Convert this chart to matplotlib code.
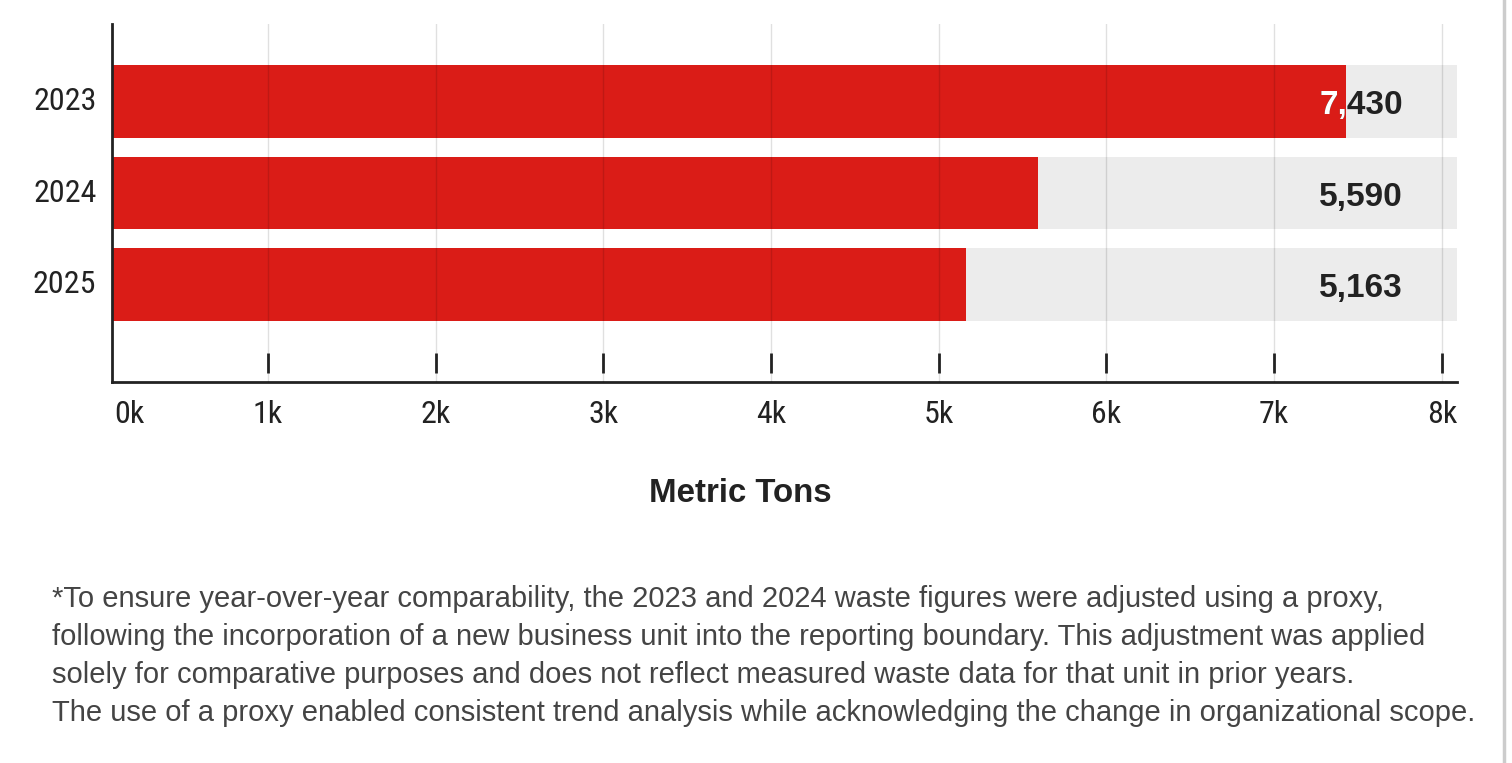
import matplotlib
matplotlib.use("Agg")
import matplotlib.pyplot as plt
from matplotlib import font_manager
from matplotlib.lines import Line2D
from matplotlib.transforms import ScaledTranslation, TransformedBbox

# data
years = ["2023", "2024", "2025"]
tons = [7430, 5590, 5163]
tick_values = [1000, 2000, 3000, 4000, 5000, 6000, 7000, 8000]
tick_labels = ["1k", "2k", "3k", "4k", "5k", "6k", "7k", "8k"]
footnote = ("*To ensure year-over-year comparability, the 2023 and 2024 waste figures were adjusted using a proxy,\n"
            "following the incorporation of a new business unit into the reporting boundary. This adjustment was applied\n"
            "solely for comparative purposes and does not reflect measured waste data for that unit in prior years.\n"
            "The use of a proxy enabled consistent trend analysis while acknowledging the change in organizational scope.")

installed = {f.name for f in font_manager.fontManager.ttflist}
narrow = next(f for f in ["Roboto Condensed", "Archivo Narrow", "Barlow Condensed", "DejaVu Sans"] if f in installed)
sans = "Liberation Sans"

RED = "#da1c17"
TRACK = "#ececec"
DARK = "#222222"

fig = plt.figure(figsize=(15.12, 7.63), dpi=100)
ax = fig.add_axes([0.0739, 0.4997, 0.8897, 0.4684])

x_min, x_max = 68, 8090
ax.set_xlim(x_min, x_max)
ax.set_ylim(2 + 1.062, -0.843)

pos = list(range(len(years)))
ax.barh(pos, [x_max] * len(pos), height=0.795, color=TRACK, zorder=1)
bars = ax.barh(pos, tons, height=0.795, color=RED, zorder=1.5)

# grid lines sit over the bars
ax.set_axisbelow(False)
ax.grid(axis="x", color="black", alpha=0.12, lw=1)
ax.grid(axis="y", visible=False)

ax.set_xticks(tick_values)
ax.set_xticklabels(tick_labels, fontfamily=narrow, fontsize=23, color=DARK)
ax.tick_params(axis="x", length=0, pad=13)
ax.set_yticks(pos)
ax.set_yticklabels(years, fontfamily=narrow, fontsize=23, color=DARK)
ax.tick_params(axis="y", length=0, pad=11)
for lab in ax.get_yticklabels():
    lab.set_transform(lab.get_transform() + ScaledTranslation(0, 3 / 100, fig.dpi_scale_trans))

# "0k" sits just right of the left spine
ax.text(0, 0, "0k", transform=ax.transAxes + ScaledTranslation(3 / 100, -18 / 100, fig.dpi_scale_trans),
        ha="left", va="top", fontfamily=narrow, fontsize=23, color=DARK)

# detached tick marks above the baseline
for t in tick_values:
    ax.plot([t, t], [0.024, 0.080], transform=ax.get_xaxis_transform(), color=DARK, lw=2,
            solid_capstyle="butt", zorder=3)

for s in ["top", "right"]:
    ax.spines[s].set_visible(False)
for s in ["left", "bottom"]:
    ax.spines[s].set_color(DARK)
    ax.spines[s].set_linewidth(2)

# value labels, white where they overlap the red bar
shift = ScaledTranslation(0, -4 / 100, fig.dpi_scale_trans)
for i, v in enumerate(tons):
    label = f"{v:,}"
    ax.text(0.960, i, label, transform=ax.get_yaxis_transform() + shift, ha="right", va="center",
            fontfamily=sans, fontweight="bold", fontsize=24, color=DARK, zorder=4)
    white = ax.text(0.960, i, label, transform=ax.get_yaxis_transform() + shift, ha="right", va="center",
                    fontfamily=sans, fontweight="bold", fontsize=24, color="white", zorder=5)
    white.set_clip_on(True)
    white.set_clip_box(TransformedBbox(bars[i].get_bbox(), ax.transData))

fig.text(740 / 1512, 1 - 494 / 763, "Metric Tons", ha="center", va="center",
         fontfamily=sans, fontweight="bold", fontsize=23.8, color=DARK)

fig.text(52 / 1512, 1 - 585 / 763, footnote, ha="left", va="top", fontfamily=sans,
         fontsize=21, color="#444444", linespacing=1.45)

# page border at right edge
fig.add_artist(Line2D([1503.5 / 1512, 1503.5 / 1512], [0, 1], transform=fig.transFigure,
                      color="#cccccc", lw=2.5))

fig.savefig("out.png", dpi=100)
